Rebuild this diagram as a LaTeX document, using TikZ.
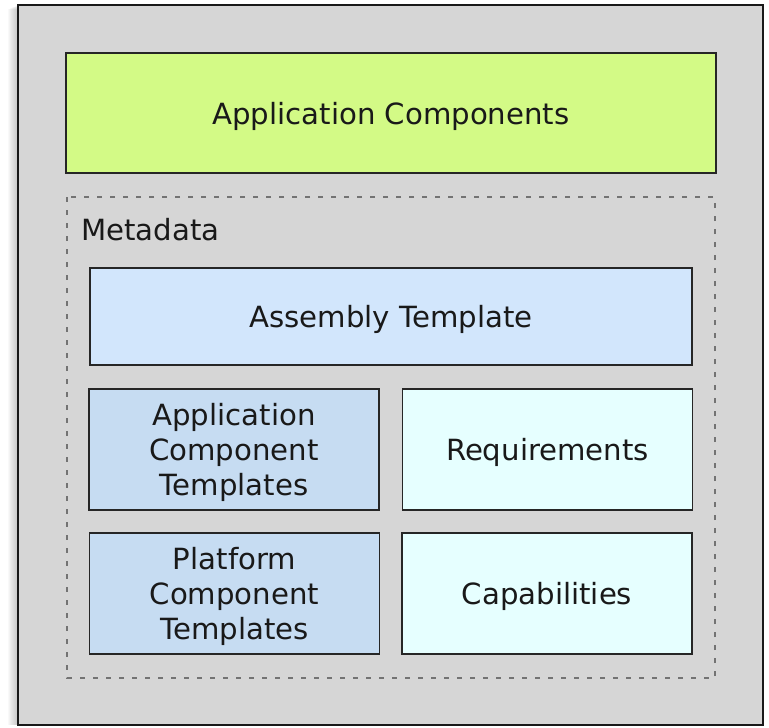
\documentclass[tikz,border=0pt]{standalone}
\usepackage{fontspec}
\setmainfont{DejaVu Sans}
\usetikzlibrary{positioning}

\tikzset{
    box/.style={draw=black!85, line width=0.8pt, text=black!90, align=center,
                inner sep=0pt, minimum width=145pt, minimum height=60.5pt,
                text depth=0pt},
}

\begin{document}
\begin{tikzpicture}[x=0.5pt, y=-0.5pt, font=\fontsize{14.6}{17.5}\selectfont]
    \definecolor{panelColour}{HTML}{D6D6D6}
    \definecolor{appColour}{HTML}{D3FA86}
    \definecolor{assemblyColour}{HTML}{D2E6FC}
    \definecolor{templateColour}{HTML}{C6DCF2}
    \definecolor{reqColour}{HTML}{E6FFFF}

    \useasboundingbox (0,0) rectangle (769,727);

    % Soft shadow on the left of the panel
    \foreach \s in {1,...,10}
        \fill[black, opacity=0.025] (18-\s,5+\s*0.4) rectangle (763,725);

    % Outer panel
    \draw[fill=panelColour, draw=black!90, line width=1pt] (18,5) rectangle (763,725);

    % Top block
    \node[box, fill=appColour, minimum width=325pt, minimum height=60pt]
        (app) at (391,113) {Application Components};

    % Metadata group
    \draw[gray!90!black, line width=1pt, dash pattern=on 2.5pt off 4pt]
        (67,197) rectangle (715,678);
    \node[anchor=west, text=black!90] (meta) at (74,230) {Metadata};

    \node[box, fill=assemblyColour, minimum width=301pt, minimum height=48.5pt]
        (assembly) at (391,316.5) {Assembly Template};

    % Templates on the left, requirements and capabilities on the right
    \node[box, fill=templateColour] (apptpl) at (234,449.5)
        {Application\\Component\\Templates};
    \node[box, fill=reqColour] (req) at (547.5,449.5) {Requirements};
    \node[box, fill=templateColour] (platform) at (234.5,593.5)
        {Platform\\Component\\Templates};
    \node[box, fill=reqColour] (cap) at (547,593.5) {Capabilities};

\end{tikzpicture}
\end{document}
